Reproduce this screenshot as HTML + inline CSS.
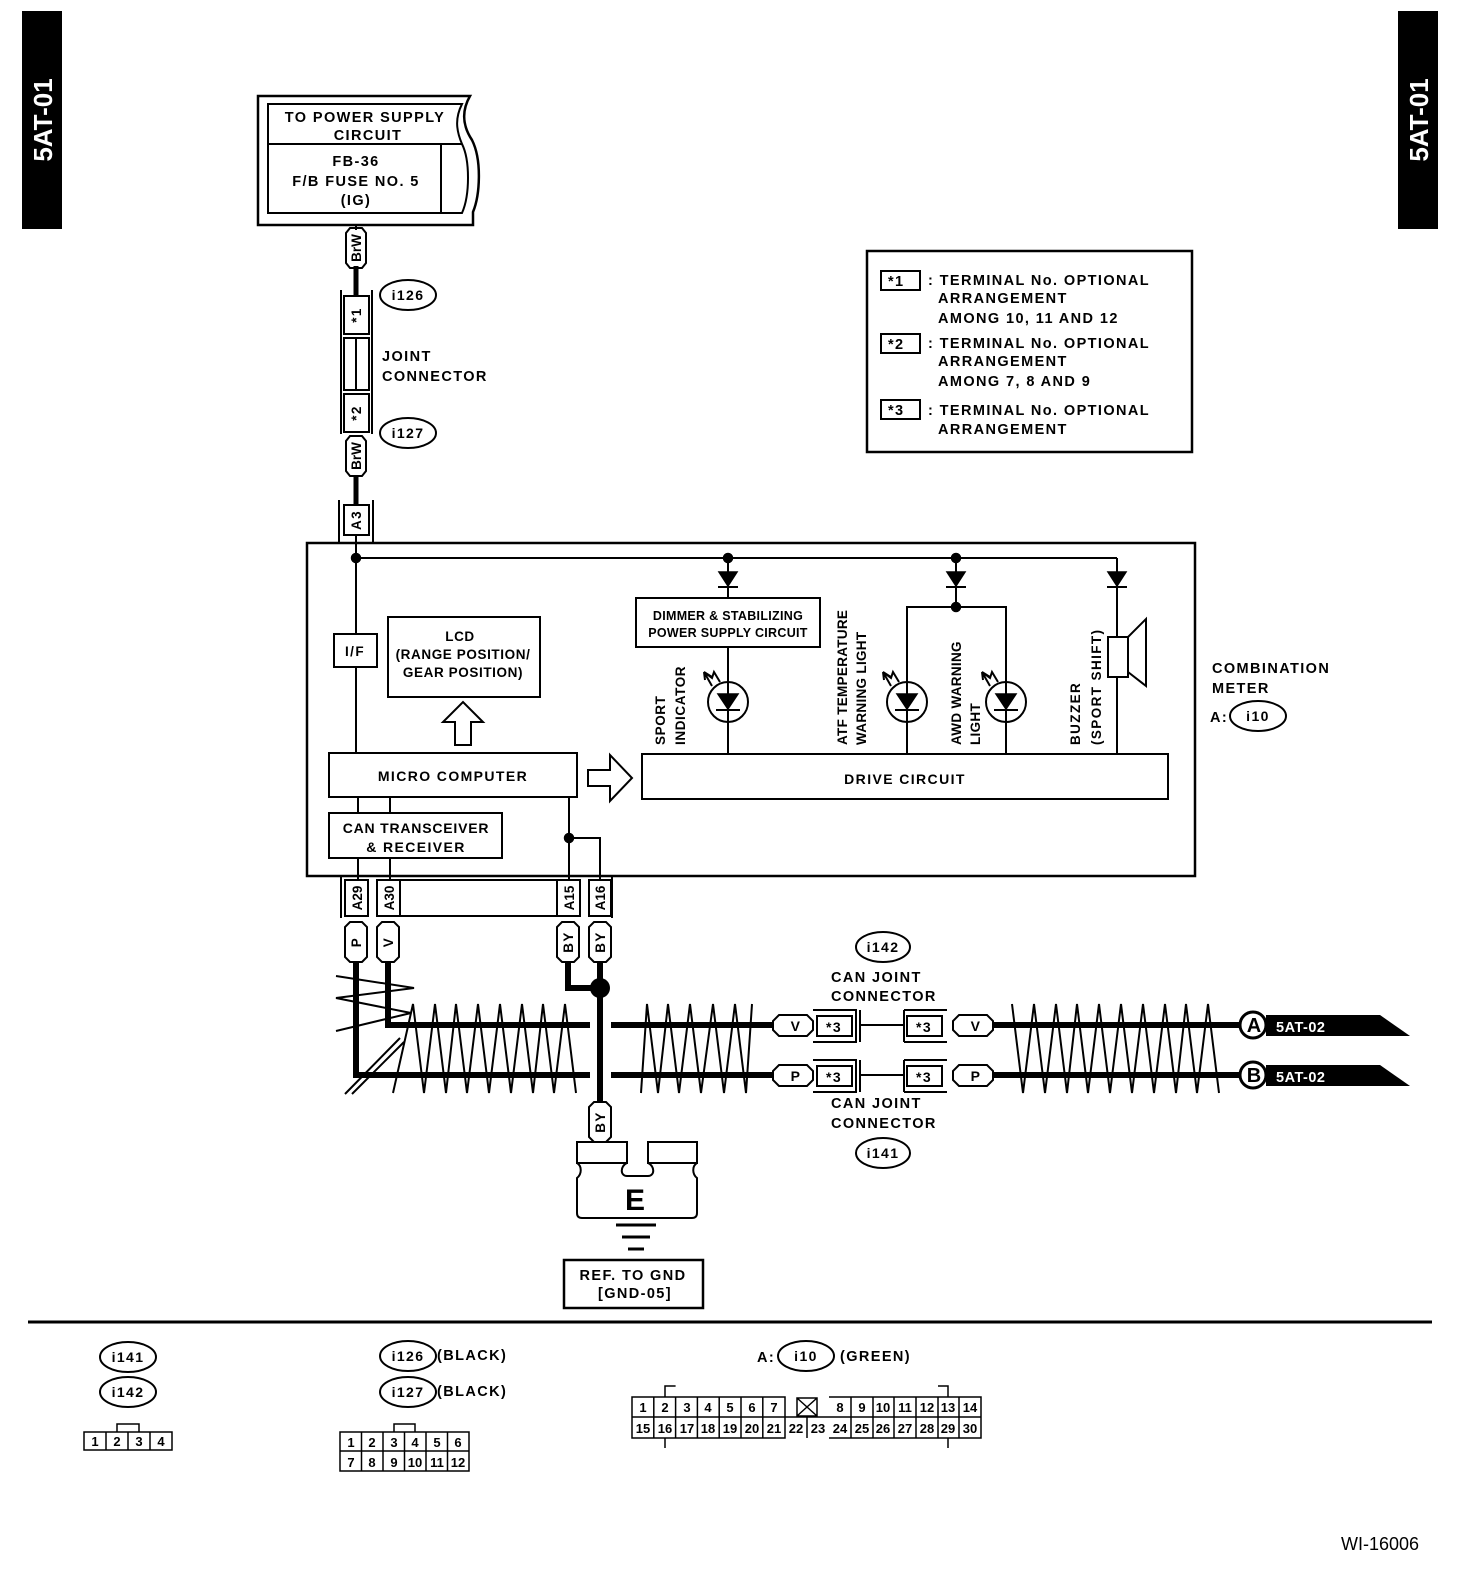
<!DOCTYPE html>
<html><head><meta charset="utf-8"><style>
html,body{margin:0;padding:0;background:#fff}
svg{display:block}
text{font-family:"Liberation Sans",Arial,sans-serif;font-weight:bold;fill:#000;letter-spacing:1.4px}
.n text{letter-spacing:0}
</style></head><body>
<svg width="1472" height="1580" viewBox="0 0 1472 1580" xmlns="http://www.w3.org/2000/svg">
<g fill="none" stroke="#000" stroke-width="2">
<rect x="23" y="12" width="38" height="216" fill="#000"/>
<rect x="1399" y="12" width="38" height="216" fill="#000"/>
</g>
<text transform="translate(52,120) rotate(-90)" font-size="26" text-anchor="middle" style="fill:#fff;letter-spacing:0">5AT-01</text>
<text transform="translate(1428,120) rotate(-90)" font-size="26" text-anchor="middle" style="fill:#fff;letter-spacing:0">5AT-01</text>

<g fill="none" stroke="#000" stroke-width="2">
<path d="M258,96 L470,96 C462,110 462,125 472,140 C482,160 480,195 473,212 L473,225 L258,225 Z" stroke-width="2.5"/>
<path d="M268,104 L462,104 C455,118 456,130 462,144 C470,160 470,195 462,213 L268,213 Z"/>
<line x1="268" y1="144" x2="462" y2="144"/>
<line x1="441" y1="144" x2="441" y2="213"/>
<line x1="356" y1="225" x2="356" y2="230"/>
<line x1="356" y1="266" x2="356" y2="296" stroke-width="5"/>
<path d="M350,228 h12 l4,5 v30 l-4,5 h-12 l-4,-5 v-30 z"/>
<line x1="341" y1="290" x2="341" y2="434"/><line x1="372" y1="290" x2="372" y2="434"/>
<rect x="344" y="296" width="25" height="38"/>
<rect x="344" y="338" width="25" height="52"/>
<line x1="356" y1="338" x2="356" y2="390"/>
<rect x="344" y="394" width="25" height="38"/>
<path d="M350,436 h12 l4,5 v30 l-4,5 h-12 l-4,-5 v-30 z"/>
<line x1="356" y1="476" x2="356" y2="505" stroke-width="5"/>
<line x1="339" y1="500" x2="339" y2="543"/><line x1="373" y1="500" x2="373" y2="543"/>
<rect x="344" y="505" width="25" height="30"/>
<ellipse cx="408" cy="295" rx="28" ry="15"/>
<ellipse cx="408" cy="433" rx="28" ry="15"/>

<rect x="867" y="251" width="325" height="201" stroke-width="2.5"/>
<rect x="881" y="271" width="39" height="19"/>
<rect x="881" y="334" width="39" height="19"/>
<rect x="881" y="400" width="39" height="19"/>

<rect x="307" y="543" width="888" height="333" stroke-width="2.5"/>
<line x1="356" y1="558" x2="1117" y2="558"/>
<line x1="356" y1="535" x2="356" y2="753"/>
<rect x="334" y="634" width="43" height="33" fill="#fff"/>
<rect x="388" y="617" width="152" height="80"/>
<path d="M455,745 v-23 h-12 l20,-20 l20,20 h-12 v23 z"/>
<rect x="329" y="753" width="248" height="44"/>
<rect x="329" y="813" width="173" height="45"/>
<line x1="358" y1="797" x2="358" y2="813"/><line x1="390" y1="797" x2="390" y2="813"/>
<line x1="358" y1="858" x2="358" y2="880"/><line x1="390" y1="858" x2="390" y2="880"/>
<line x1="569" y1="797" x2="569" y2="880"/>
<path d="M569,838 H600 V880"/>
<path d="M588,770 h22 v-15 l22,23 l-22,23 v-15 h-22 z"/>
<rect x="642" y="754" width="526" height="45"/>
<line x1="728" y1="558" x2="728" y2="598"/>
<rect x="636" y="598" width="184" height="49"/>
<line x1="728" y1="647" x2="728" y2="754"/>
<circle cx="728" cy="702" r="20"/>
<line x1="956" y1="558" x2="956" y2="607"/>
<path d="M907,754 V607 H1006 V754"/>
<circle cx="907" cy="702" r="20"/>
<circle cx="1006" cy="702" r="20"/>
<line x1="1117" y1="558" x2="1117" y2="754"/>
<rect x="1108" y="637" width="20" height="40" fill="#fff"/>
<path d="M1128,637 L1146,619 L1146,686 L1128,672"/>
</g>
<g fill="#000" stroke="#000" stroke-width="1.5">
<circle cx="356" cy="558" r="4.5"/><circle cx="728" cy="558" r="4.5"/><circle cx="956" cy="558" r="4.5"/><circle cx="956" cy="607" r="4.5"/><circle cx="569" cy="838" r="4.5"/>
<path d="M719,572 h18 l-9,14 z"/><line x1="718" y1="587" x2="738" y2="587" stroke-width="2"/>
<path d="M947,572 h18 l-9,14 z"/><line x1="946" y1="587" x2="966" y2="587" stroke-width="2"/>
<path d="M1108,572 h18 l-9,14 z"/><line x1="1107" y1="587" x2="1127" y2="587" stroke-width="2"/>
<path d="M718,694 h20 l-10,15 z"/><line x1="716" y1="710" x2="740" y2="710" stroke-width="2"/>
<path d="M897,694 h20 l-10,15 z"/><line x1="895" y1="710" x2="919" y2="710" stroke-width="2"/>
<path d="M996,694 h20 l-10,15 z"/><line x1="994" y1="710" x2="1018" y2="710" stroke-width="2"/>
</g>
<g fill="none" stroke="#000" stroke-width="2">
<path d="M712,686 l-8,-14 l8,5 m-8,-5 l1,8 M704,672 l8,6 l2,-6 l6,10"/>
<path d="M891,686 l-8,-14 l8,5 m-8,-5 l1,8 M883,672 l8,6 l2,-6 l6,10"/>
<path d="M990,686 l-8,-14 l8,5 m-8,-5 l1,8 M982,672 l8,6 l2,-6 l6,10"/>
<ellipse cx="1258" cy="716" rx="28" ry="15"/>

<line x1="341" y1="876" x2="341" y2="918"/><line x1="612" y1="876" x2="612" y2="918"/>
<rect x="345" y="880" width="23" height="36"/>
<rect x="377" y="880" width="23" height="36"/>
<rect x="557" y="880" width="23" height="36"/>
<rect x="589" y="880" width="22" height="36"/>
<path d="M400,880 H557 M400,916 H557"/>
<path d="M350,922 h12 l5,5 v30 l-5,5 h-12 l-5,-5 v-30 z"/>
<path d="M382,922 h12 l5,5 v30 l-5,5 h-12 l-5,-5 v-30 z"/>
<path d="M562,922 h12 l5,5 v30 l-5,5 h-12 l-5,-5 v-30 z"/>
<path d="M594,922 h12 l5,5 v30 l-5,5 h-12 l-5,-5 v-30 z"/>
</g>
<g fill="none" stroke="#000" stroke-width="6">
<path d="M356,962 V1075 H590"/>
<path d="M388,962 V1025 H590"/>
<path d="M568,962 V988 H600"/>
<line x1="600" y1="962" x2="600" y2="1102"/>
<path d="M611,1025 H772 M611,1075 H772"/>
<path d="M992,1025 H1240 M992,1075 H1240"/>
</g>
<circle cx="600" cy="988" r="10" fill="#000"/>
<g fill="none" stroke="#000" stroke-width="2">
<polyline points="393,1093 413,1004 424,1093 435,1004 446,1093 456,1004 467,1093 478,1004 489,1093 500,1004 511,1093 522,1004 533,1093 543,1004 554,1093 565,1004 576,1093"/>
<polyline points="641,1093 647,1004 658,1093 668,1004 679,1093 690,1004 701,1093 713,1004 724,1093 735,1004 746,1093 752,1004"/>
<polyline points="1012,1004 1023,1093 1034,1004 1045,1093 1056,1004 1067,1093 1077,1004 1088,1093 1099,1004 1110,1093 1121,1004 1132,1093 1143,1004 1154,1093 1165,1004 1176,1093 1186,1004 1197,1093 1208,1004 1219,1093"/>
<polyline points="336,976 414,988 336,998 411,1013 336,1031"/>
<line x1="345" y1="1094" x2="400" y2="1038"/><line x1="352" y1="1094" x2="404" y2="1042"/>
<path d="M779,1015 h28 l6,6 v9 l-6,6 h-28 l-6,-6 v-9 z" fill="#fff"/>
<path d="M779,1065 h28 l6,6 v9 l-6,6 h-28 l-6,-6 v-9 z" fill="#fff"/>
<path d="M959,1015 h28 l6,6 v9 l-6,6 h-28 l-6,-6 v-9 z" fill="#fff"/>
<path d="M959,1065 h28 l6,6 v9 l-6,6 h-28 l-6,-6 v-9 z" fill="#fff"/>
<rect x="817" y="1016" width="35" height="20"/><rect x="907" y="1016" width="35" height="20"/>
<rect x="817" y="1066" width="35" height="20"/><rect x="907" y="1066" width="35" height="20"/>
<path d="M813,1010 H856 V1042 H813 M860,1010 V1042 M860,1025 H904 M904,1010 V1042 M904,1010 H947 M904,1042 H947"/>
<path d="M813,1060 H856 V1092 H813 M860,1060 V1092 M860,1075 H904 M904,1060 V1092 M904,1060 H947 M904,1092 H947"/>
<ellipse cx="883" cy="947" rx="27" ry="15"/>
<ellipse cx="883" cy="1153" rx="27" ry="15"/>
<circle cx="1253" cy="1025" r="13" stroke-width="3"/>
<circle cx="1253" cy="1075" r="13" stroke-width="3"/>
</g>
<path d="M1266,1015 H1380 L1410,1036 H1266 Z" fill="#000"/>
<path d="M1266,1065 H1380 L1410,1086 H1266 Z" fill="#000"/>
<g fill="none" stroke="#000" stroke-width="2">
<path d="M594,1102 h12 l5,5 v30 l-5,5 h-12 l-5,-5 v-30 z" fill="#fff"/>
<path d="M577,1142 H627 V1163 H577 Z M648,1142 H697 V1163 H648 Z"/>
<path d="M577,1163 C582,1166 582,1174 577,1178 V1213 Q577,1218 582,1218 H692 Q697,1218 697,1213 V1178 C692,1174 692,1166 697,1163 M627,1163 C620,1166 620,1176 627,1176 H648 C655,1176 655,1166 648,1163"/>
<line x1="616" y1="1225" x2="656" y2="1225" stroke-width="3"/>
<line x1="622" y1="1237" x2="650" y2="1237" stroke-width="3"/>
<line x1="628" y1="1249" x2="644" y2="1249" stroke-width="3"/>
<rect x="564" y="1260" width="139" height="48" stroke-width="2.5"/>
<line x1="28" y1="1322" x2="1432" y2="1322" stroke-width="3"/>
<ellipse cx="128" cy="1357" rx="28" ry="15"/><ellipse cx="128" cy="1392" rx="28" ry="15"/>
<ellipse cx="408" cy="1356" rx="28" ry="15"/><ellipse cx="408" cy="1392" rx="28" ry="15"/>
<ellipse cx="806" cy="1356" rx="28" ry="15"/>
<rect x="84" y="1432" width="88" height="18" stroke-width="1.5"/>
<path d="M106,1432 V1450 M128,1432 V1450 M150,1432 V1450 M117,1432 V1424 H139 V1432" stroke-width="1.5"/>
<rect x="340" y="1432" width="129" height="39" stroke-width="1.5"/>
<path d="M340,1451 H469 M361.5,1432 V1471 M383,1432 V1471 M404.5,1432 V1471 M426,1432 V1471 M447.5,1432 V1471 M394,1432 V1424 H415 V1432" stroke-width="1.5"/>
<path d="M632,1397 H785 V1438 H632 Z M829,1397 H981 V1438 H829 M632,1417 H981 M785,1417 V1438" stroke-width="1.5"/>
<path d="M653.8,1397 V1438 M675.6,1397 V1438 M697.4,1397 V1438 M719.2,1397 V1438 M741,1397 V1438 M762.8,1397 V1438 M807,1417 V1438 M851,1397 V1438 M873,1397 V1438 M894,1397 V1438 M916,1397 V1438 M938,1397 V1438 M959,1397 V1438 M665,1397 V1386 H675.6 M938,1386 H948 V1397 M665,1438 V1448 M948,1438 V1448" stroke-width="1.5"/>
<path d="M797,1398 h20 v18 h-20 z M797,1398 L817,1416 M817,1398 L797,1416" stroke-width="1.5"/>
</g>

<g font-size="14.5" text-anchor="middle">
<text x="365" y="122">TO POWER SUPPLY</text><text x="368" y="140">CIRCUIT</text>
<text x="356" y="166">FB-36</text><text x="356" y="186">F/B FUSE NO. 5</text><text x="356" y="205">(IG)</text>
<text x="408" y="300" font-size="14">i126</text><text x="408" y="438" font-size="14">i127</text>
<text x="883" y="952" font-size="14">i142</text><text x="883" y="1158" font-size="14">i141</text>
<text x="1258" y="721" font-size="14">i10</text>
<text x="128" y="1362" font-size="14">i141</text><text x="128" y="1397" font-size="14">i142</text>
<text x="408" y="1361" font-size="14">i126</text><text x="408" y="1397" font-size="14">i127</text>
<text x="806" y="1361" font-size="14">i10</text>
<text x="460" y="641" font-size="13.5" style="letter-spacing:0.6px">LCD</text><text x="463" y="659" font-size="13.5" style="letter-spacing:0.6px">(RANGE POSITION/</text><text x="463" y="677" font-size="13.5" style="letter-spacing:0.6px">GEAR POSITION)</text>
<text x="355" y="656" font-size="13.5">I/F</text>
<text x="453" y="781" font-size="14">MICRO COMPUTER</text>
<text x="416" y="833" font-size="14" style="letter-spacing:0.8px">CAN TRANSCEIVER</text><text x="416" y="852" font-size="14">&amp; RECEIVER</text>
<text x="905" y="784" font-size="14">DRIVE CIRCUIT</text>
<text x="728" y="620" font-size="12.5" style="letter-spacing:0.3px">DIMMER &amp; STABILIZING</text><text x="728" y="637" font-size="12.5" style="letter-spacing:0.3px">POWER SUPPLY CIRCUIT</text>
<text x="796" y="1031" font-size="14">V</text><text x="976" y="1031" font-size="14">V</text>
<text x="796" y="1081" font-size="14">P</text><text x="976" y="1081" font-size="14">P</text>
<text x="834" y="1032" font-size="14">*3</text><text x="924" y="1032" font-size="14">*3</text>
<text x="834" y="1082" font-size="14">*3</text><text x="924" y="1082" font-size="14">*3</text>
<text x="1254" y="1032" font-size="20" style="letter-spacing:0">A</text><text x="1254" y="1082" font-size="20" style="letter-spacing:0">B</text>
<text x="635" y="1210" font-size="30" style="letter-spacing:0">E</text>
<text x="633" y="1280">REF. TO GND</text><text x="635" y="1298">[GND-05]</text>
</g>
<g font-size="14.5">
<text x="382" y="361">JOINT</text><text x="382" y="381">CONNECTOR</text>
<text x="831" y="982">CAN JOINT</text><text x="831" y="1001">CONNECTOR</text>
<text x="831" y="1108">CAN JOINT</text><text x="831" y="1128">CONNECTOR</text>
<text x="1212" y="673">COMBINATION</text><text x="1212" y="693">METER</text><text x="1210" y="722">A:</text>
<text x="928" y="285">: TERMINAL No. OPTIONAL</text><text x="938" y="303">ARRANGEMENT</text><text x="938" y="323">AMONG 10, 11  AND 12</text>
<text x="928" y="348">: TERMINAL No. OPTIONAL</text><text x="938" y="366">ARRANGEMENT</text><text x="938" y="386">AMONG 7, 8  AND 9</text>
<text x="928" y="415">: TERMINAL No. OPTIONAL</text><text x="938" y="434">ARRANGEMENT</text>
<text x="888" y="286">*1</text><text x="888" y="349">*2</text><text x="888" y="415">*3</text>
<text x="1276" y="1032" style="fill:#fff;letter-spacing:0.5px">5AT-02</text><text x="1276" y="1082" style="fill:#fff;letter-spacing:0.5px">5AT-02</text>
<text x="437" y="1360">(BLACK)</text><text x="437" y="1396">(BLACK)</text>
<text x="757" y="1362">A:</text><text x="840" y="1361">(GREEN)</text>
<text x="1341" y="1550" style="font-weight:normal;letter-spacing:0" font-size="18">WI-16006</text>
</g>
<g font-size="13.5">
<text transform="translate(361,248) rotate(-90)" text-anchor="middle" style="letter-spacing:0">BrW</text>
<text transform="translate(361,456) rotate(-90)" text-anchor="middle" style="letter-spacing:0">BrW</text>
<text transform="translate(361,315) rotate(-90)" text-anchor="middle">*1</text>
<text transform="translate(361,413) rotate(-90)" text-anchor="middle">*2</text>
<text transform="translate(361,520) rotate(-90)" text-anchor="middle">A3</text>
<text transform="translate(362,898) rotate(-90)" text-anchor="middle" style="letter-spacing:0">A29</text>
<text transform="translate(394,898) rotate(-90)" text-anchor="middle" style="letter-spacing:0">A30</text>
<text transform="translate(574,898) rotate(-90)" text-anchor="middle" style="letter-spacing:0">A15</text>
<text transform="translate(605,898) rotate(-90)" text-anchor="middle" style="letter-spacing:0">A16</text>
<text transform="translate(361,942) rotate(-90)" text-anchor="middle">P</text>
<text transform="translate(393,942) rotate(-90)" text-anchor="middle">V</text>
<text transform="translate(573,942) rotate(-90)" text-anchor="middle">BY</text>
<text transform="translate(605,942) rotate(-90)" text-anchor="middle">BY</text>
<text transform="translate(605,1122) rotate(-90)" text-anchor="middle">BY</text>
<text transform="translate(665,745) rotate(-90)" style="letter-spacing:0.6px">SPORT</text>
<text transform="translate(685,745) rotate(-90)" style="letter-spacing:0.6px">INDICATOR</text>
<text transform="translate(847,745) rotate(-90)" style="letter-spacing:0.3px">ATF TEMPERATURE</text>
<text transform="translate(866,745) rotate(-90)" style="letter-spacing:0.3px">WARNING LIGHT</text>
<text transform="translate(961,745) rotate(-90)" style="letter-spacing:0.3px">AWD WARNING</text>
<text transform="translate(980,745) rotate(-90)" style="letter-spacing:0.3px">LIGHT</text>
<text transform="translate(1080,745) rotate(-90)">BUZZER</text>
<text transform="translate(1101,745) rotate(-90)">(SPORT SHIFT)</text>
</g>
<g class="n" font-size="13" text-anchor="middle" style="font-weight:normal">
<text x="95" y="1446">1</text><text x="117" y="1446">2</text><text x="139" y="1446">3</text><text x="161" y="1446">4</text>
<text x="351" y="1447">1</text><text x="372" y="1447">2</text><text x="394" y="1447">3</text><text x="415" y="1447">4</text><text x="437" y="1447">5</text><text x="458" y="1447">6</text>
<text x="351" y="1467">7</text><text x="372" y="1467">8</text><text x="394" y="1467">9</text><text x="415" y="1467">10</text><text x="437" y="1467">11</text><text x="458" y="1467">12</text>
<text x="643" y="1412">1</text><text x="665" y="1412">2</text><text x="687" y="1412">3</text><text x="708" y="1412">4</text><text x="730" y="1412">5</text><text x="752" y="1412">6</text><text x="774" y="1412">7</text>
<text x="840" y="1412">8</text><text x="862" y="1412">9</text><text x="883" y="1412">10</text><text x="905" y="1412">11</text><text x="927" y="1412">12</text><text x="948" y="1412">13</text><text x="970" y="1412">14</text>
<text x="643" y="1433">15</text><text x="665" y="1433">16</text><text x="687" y="1433">17</text><text x="708" y="1433">18</text><text x="730" y="1433">19</text><text x="752" y="1433">20</text><text x="774" y="1433">21</text><text x="796" y="1433">22</text><text x="818" y="1433">23</text><text x="840" y="1433">24</text><text x="862" y="1433">25</text><text x="883" y="1433">26</text><text x="905" y="1433">27</text><text x="927" y="1433">28</text><text x="948" y="1433">29</text><text x="970" y="1433">30</text>
</g>
</svg>
</body></html>
